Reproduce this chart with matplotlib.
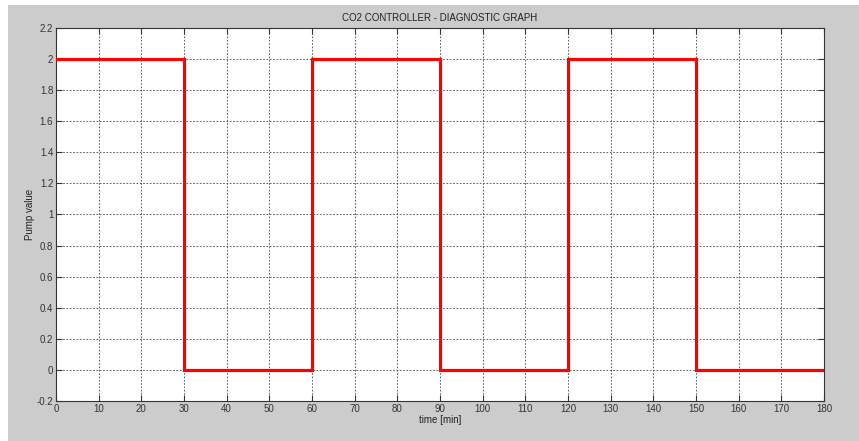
import matplotlib
matplotlib.use("Agg")
import matplotlib.pyplot as plt
from matplotlib.patches import Rectangle

time_min = [0, 30, 30, 60, 60, 90, 90, 120, 120, 150, 150, 180]
pump_value = [2, 2, 0, 0, 2, 2, 0, 0, 2, 2, 0, 0]
x_ticks = list(range(0, 181, 10))
y_ticks = [-0.2, 0, 0.2, 0.4, 0.6, 0.8, 1, 1.2, 1.4, 1.6, 1.8, 2, 2.2]
y_labels = ["-0.2", "0", "0.2", "0.4", "0.6", "0.8", "1", "1.2", "1.4", "1.6", "1.8", "2", "2.2"]

plt.rcParams['font.family'] = ['Liberation Sans', 'DejaVu Sans']

W, H = 859, 441
fig = plt.figure(figsize=(W / 100, H / 100), dpi=100, facecolor='white')
fig.patches.append(Rectangle((8 / W, 0), 1 - 8 / W, 1 - 5 / H, transform=fig.transFigure,
                             facecolor='#cccccc', edgecolor='none', zorder=-10))

ax = fig.add_axes([56 / W, 1 - 401 / H, (824 - 56) / W, (401 - 28) / H])
ax.set_facecolor('white')
ax.plot(time_min, pump_value, color='#ff0000', lw=2.3, solid_joinstyle='miter', zorder=3)
ax.set_xlim(0, 180)
ax.set_ylim(-0.2, 2.2)
ax.set_xticks(x_ticks)
ax.set_yticks(y_ticks)
ax.set_yticklabels(y_labels)
ax.grid(True, color='#444444', linestyle=(0, (2, 2)), lw=0.6)
ax.tick_params(direction='in', length=4, width=0.8, top=True, right=True,
               labelsize=7, colors='#333333', pad=2)
for s in ax.spines.values():
    s.set_color('#333333')
    s.set_linewidth(0.8)
ax.set_title("CO2 CONTROLLER - DIAGNOSTIC GRAPH", fontsize=7, color='#222222', pad=5)
ax.set_xlabel("time [min]", fontsize=7, color='#222222', labelpad=1)
ax.set_ylabel("Pump value", fontsize=7, color='#222222', labelpad=1)

fig.savefig("out.png", dpi=100, facecolor=fig.get_facecolor())
